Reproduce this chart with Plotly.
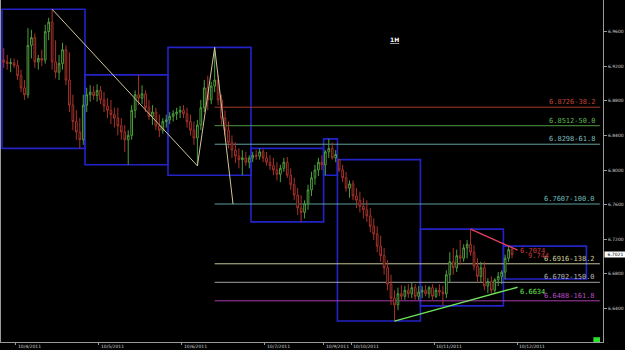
import plotly.graph_objects as go

# ---------------- data (hourly bars, 1H) ----------------
bar_index = list(range(148))

opens = [
    6.927, 6.925, 6.923, 6.924, 6.921, 6.909, 6.895, 6.887, 6.944, 6.953, 6.925, 6.929, 6.927, 6.960, 6.971, 6.925, 6.913, 6.923, 6.939, 6.904, 6.875, 6.856, 6.844, 6.835,
    6.875, 6.887, 6.890, 6.886, 6.892, 6.881, 6.874, 6.869, 6.864, 6.860, 6.851, 6.844, 6.835, 6.840, 6.869, 6.887, 6.883, 6.888, 6.872, 6.862, 6.867, 6.851, 6.846, 6.856,
    6.858, 6.862, 6.865, 6.867, 6.869, 6.865, 6.856, 6.846, 6.837, 6.852, 6.872, 6.895, 6.881, 6.897, 6.904, 6.881, 6.860, 6.846, 6.832, 6.823, 6.816, 6.812, 6.814, 6.809,
    6.814, 6.817, 6.816, 6.821, 6.814, 6.809, 6.805, 6.800, 6.795, 6.802, 6.809, 6.794, 6.783, 6.771, 6.756, 6.751, 6.761, 6.777, 6.791, 6.800, 6.809,
    6.806, 6.821, 6.825, 6.814,
    6.812, 6.800, 6.791, 6.779, 6.784, 6.770, 6.765, 6.758, 6.754, 6.747, 6.735, 6.726, 6.712, 6.701, 6.687, 6.668, 6.652, 6.644, 6.657, 6.654, 6.661, 6.657, 6.664, 6.654,
    6.659, 6.661, 6.657, 6.664, 6.654, 6.661, 6.659, 6.657, 6.679, 6.694, 6.687, 6.701, 6.698, 6.710, 6.714, 6.705, 6.689, 6.677, 6.687, 6.666, 6.671, 6.661, 6.673, 6.677,
    6.682, 6.698, 6.708,
]
highs = [
    6.941, 6.933, 6.929, 6.929, 6.927, 6.916, 6.904, 6.964, 6.962, 6.958, 6.933, 6.939, 6.968, 6.976, 6.9858, 6.950, 6.933, 6.947, 6.944, 6.936, 6.887, 6.869, 6.860, 6.887,
    6.895, 6.898, 6.897, 6.899, 6.897, 6.890, 6.883, 6.881, 6.872, 6.872, 6.860, 6.852, 6.846, 6.875, 6.892, 6.910, 6.898, 6.892, 6.881, 6.875, 6.872, 6.864, 6.860, 6.864,
    6.867, 6.869, 6.872, 6.874, 6.875, 6.872, 6.864, 6.856, 6.858, 6.881, 6.904, 6.909, 6.902, 6.9417, 6.910, 6.887, 6.869, 6.856, 6.840, 6.832, 6.825, 6.823, 6.821, 6.817,
    6.821, 6.823, 6.825, 6.824, 6.821, 6.817, 6.814, 6.809, 6.806, 6.814, 6.815, 6.802, 6.791, 6.779, 6.771, 6.765, 6.783, 6.798, 6.806, 6.814, 6.817,
    6.823, 6.836, 6.832, 6.823,
    6.812, 6.806, 6.798, 6.788, 6.788, 6.779, 6.775, 6.768, 6.765, 6.756, 6.744, 6.735, 6.724, 6.710, 6.696, 6.679, 6.661, 6.664, 6.667, 6.666, 6.668, 6.670, 6.668, 6.666,
    6.666, 6.667, 6.666, 6.668, 6.664, 6.668, 6.666, 6.684, 6.705, 6.710, 6.708, 6.719, 6.714, 6.719, 6.7317, 6.713, 6.698, 6.694, 6.694, 6.675, 6.677, 6.675, 6.682, 6.684,
    6.702, 6.712, 6.710,
]
lows = [
    6.918, 6.916, 6.913, 6.918, 6.904, 6.890, 6.881, 6.883, 6.929, 6.918, 6.916, 6.920, 6.923, 6.950, 6.916, 6.906, 6.904, 6.916, 6.898, 6.867, 6.846, 6.835, 6.825, 6.829,
    6.867, 6.879, 6.881, 6.879, 6.876, 6.867, 6.860, 6.853, 6.849, 6.840, 6.835, 6.821, 6.806, 6.835, 6.860, 6.875, 6.876, 6.867, 6.858, 6.852, 6.846, 6.838, 6.842, 6.849,
    6.853, 6.856, 6.858, 6.860, 6.860, 6.849, 6.840, 6.829, 6.8048, 6.846, 6.867, 6.869, 6.876, 6.890, 6.875, 6.852, 6.840, 6.825, 6.814, 6.808, 6.802, 6.794, 6.805, 6.802,
    6.809, 6.812, 6.812, 6.809, 6.805, 6.800, 6.794, 6.788, 6.786, 6.798, 6.791, 6.777, 6.765, 6.748, 6.740, 6.744, 6.754, 6.770, 6.783, 6.793, 6.800,
    6.794, 6.814, 6.812, 6.809,
    6.798, 6.786, 6.775, 6.768, 6.765, 6.756, 6.751, 6.744, 6.740, 6.728, 6.719, 6.705, 6.694, 6.679, 6.661, 6.644, 6.6254, 6.638, 6.650, 6.650, 6.652, 6.652, 6.650, 6.650,
    6.652, 6.654, 6.652, 6.650, 6.652, 6.654, 6.643, 6.652, 6.670, 6.679, 6.682, 6.690, 6.694, 6.698, 6.701, 6.684, 6.670, 6.670, 6.661, 6.658, 6.657, 6.658, 6.666, 6.668,
    6.674, 6.694, 6.698,
]
closes = [
    6.925, 6.923, 6.924, 6.921, 6.909, 6.895, 6.887, 6.944, 6.953, 6.925, 6.929, 6.927, 6.960, 6.971, 6.925, 6.913, 6.923, 6.939, 6.904, 6.875, 6.856, 6.844, 6.835, 6.875,
    6.887, 6.890, 6.886, 6.892, 6.881, 6.874, 6.869, 6.864, 6.860, 6.851, 6.844, 6.835, 6.840, 6.869, 6.887, 6.883, 6.888, 6.872, 6.862, 6.867, 6.851, 6.846, 6.856, 6.858,
    6.862, 6.865, 6.867, 6.869, 6.865, 6.856, 6.846, 6.837, 6.852, 6.872, 6.895, 6.881, 6.897, 6.904, 6.881, 6.860, 6.846, 6.832, 6.823, 6.816, 6.812, 6.814, 6.809, 6.814,
    6.817, 6.816, 6.821, 6.814, 6.809, 6.805, 6.800, 6.795, 6.802, 6.809, 6.794, 6.783, 6.771, 6.756, 6.751, 6.761, 6.777, 6.791, 6.800, 6.809, 6.806,
    6.821, 6.825, 6.814, 6.818,
    6.800, 6.791, 6.779, 6.784, 6.770, 6.765, 6.758, 6.754, 6.747, 6.735, 6.726, 6.712, 6.701, 6.687, 6.668, 6.652, 6.644, 6.657, 6.654, 6.661, 6.657, 6.664, 6.654, 6.659,
    6.661, 6.657, 6.664, 6.654, 6.661, 6.659, 6.657, 6.679, 6.694, 6.687, 6.701, 6.698, 6.710, 6.714, 6.705, 6.689, 6.677, 6.687, 6.666, 6.671, 6.661, 6.673, 6.677, 6.682,
    6.698, 6.708, 6.7021,
]

# trading-day sessions (first / last bar of each daily box)
day_first_bar = [0, 24, 48, 72, 93, 97, 121, 145]
day_last_bar = [23, 47, 71, 92, 96, 120, 144, 168]

# date ticks (bar where each calendar date starts)
date_tick_bar = [4, 28, 52, 76, 93, 101, 125, 149]
date_labels = ["10/4/2011", "10/5/2011", "10/6/2011", "10/7/2011",
               "10/9/2011", "10/10/2011", "10/11/2011", "10/12/2011"]

price_ticks = [6.60, 6.64, 6.68, 6.72, 6.76, 6.80, 6.84, 6.88, 6.92, 6.96]

# AB=CD zigzag (bar, price)
zigzag_bar = [14, 56, 61, 66.3]
zigzag_price = [6.9858, 6.8048, 6.9417, 6.7607]

# Fibonacci extension levels
fib_levels = [6.8726, 6.8512, 6.8298, 6.7607, 6.6916, 6.6702, 6.6488]
fib_pct = ["38.2", "50.0", "61.8", "100.0", "138.2", "150.0", "161.8"]
fib_colors = ["#a43c2c", "#4f9a42", "#64a0a0", "#5aa09c", "#c4c49a", "#a0a0a0", "#a83cac"]
fib_label_colors = ["#c04636", "#62b454", "#7ebebe", "#6eb8b8", "#d0d09a", "#b4b4b4", "#bc4cc4"]
fib_start_bar = 61
fib_end_bar = 172.4
fib_label_bar = 171.6

# trend lines
support_bar = [113, 148.6]
support_price = [6.6254, 6.6645]
support_label = "6.6634"
resist_bar = [135, 148.6]
resist_price = [6.7317, 6.7075]
resist_labels = ["6.7074", "9.744"]

last_price = 6.7021

# ---------------- figure ----------------
fig = go.Figure()

shapes = []
for f, l in zip(day_first_bar, day_last_bar):
    hi = max(highs[f:l + 1])
    lo = min(lows[f:l + 1])
    shapes.append(dict(type="rect", xref="x", yref="y", x0=f - 0.5, x1=l + 0.5, y0=lo, y1=hi,
                       line=dict(color="#2323c8", width=1.6), fillcolor="rgba(0,0,0,0)", layer="below"))
for lvl, col in zip(fib_levels, fib_colors):
    shapes.append(dict(type="line", xref="x", yref="y", x0=fib_start_bar, x1=fib_end_bar, y0=lvl, y1=lvl,
                       line=dict(color=col, width=1), layer="below"))
shapes.append(dict(type="rect", xref="paper", yref="paper", x0=0.984, x1=0.995, y0=0.0, y1=0.014,
                   line=dict(width=0), fillcolor="#2ee02e"))

fig.add_trace(go.Candlestick(
    x=bar_index, open=opens, high=highs, low=lows, close=closes,
    increasing=dict(line=dict(color="#4e9e3e", width=1), fillcolor="black"),
    decreasing=dict(line=dict(color="#a8322a", width=1), fillcolor="black"),
    whiskerwidth=0, hoverinfo="skip", showlegend=False,
))

fig.add_trace(go.Scatter(x=zigzag_bar, y=zigzag_price, mode="lines",
                         line=dict(color="#cfc69a", width=1), hoverinfo="skip"))
fig.add_trace(go.Scatter(x=support_bar, y=support_price, mode="lines",
                         line=dict(color="#6ee35a", width=1.4), hoverinfo="skip"))
fig.add_trace(go.Scatter(x=resist_bar, y=resist_price, mode="lines",
                         line=dict(color="#e2405e", width=1.4), hoverinfo="skip"))

annotations = []
for lvl, pct, col in zip(fib_levels, fib_pct, fib_label_colors):
    annotations.append(dict(x=fib_label_bar, y=lvl, xref="x", yref="y", text=f"{lvl:.4f}-{pct}",
                            showarrow=False, xanchor="right", yanchor="bottom", yshift=-1,
                            font=dict(family="DejaVu Sans Mono", size=7, color=col)))
annotations.append(dict(x=support_bar[1], y=support_price[1], xref="x", yref="y", text=support_label,
                        showarrow=False, xanchor="left", yanchor="middle", yshift=-5,
                        font=dict(family="DejaVu Sans Mono", size=7, color="#6ee35a")))
annotations.append(dict(x=resist_bar[1], y=resist_price[1], xref="x", yref="y", text=resist_labels[0],
                        showarrow=False, xanchor="left", yanchor="middle", yshift=-1,
                        font=dict(family="DejaVu Sans Mono", size=7, color="#c83838")))
annotations.append(dict(x=resist_bar[1], y=resist_price[1], xref="x", yref="y", text=resist_labels[1],
                        showarrow=False, xanchor="left", yanchor="middle", yshift=-6, xshift=8,
                        font=dict(family="DejaVu Sans Mono", size=7, color="#c83838")))
annotations.append(dict(x=0.643, y=0.884, xref="paper", yref="paper", text="<b><u>1H</u></b>",
                        showarrow=False, xanchor="left", yanchor="middle",
                        font=dict(family="DejaVu Sans", size=6, color="white")))
annotations.append(dict(x=1.0, y=last_price, xref="paper", yref="y", text=f"{last_price:.4f}",
                        showarrow=False, xanchor="left", yanchor="middle", xshift=1,
                        bgcolor="white", borderpad=0, width=21, height=5,
                        font=dict(family="DejaVu Sans", size=4.5, color="black")))
# date labels, left-aligned at their ticks
for b, lab in zip(date_tick_bar, date_labels):
    annotations.append(dict(x=b - 0.5, y=0, xref="x", yref="paper", text=lab,
                            showarrow=False, xanchor="left", yanchor="top", xshift=1, yshift=-1,
                            borderpad=0,
                            font=dict(family="DejaVu Sans", size=4.5, color="#d0d0d0")))

fig.update_layout(
    width=625, height=350,
    margin=dict(l=1, r=22, t=0, b=8),
    paper_bgcolor="black", plot_bgcolor="black",
    showlegend=False,
    shapes=shapes,
    annotations=annotations,
    xaxis=dict(range=[-0.79, 173.3], rangeslider=dict(visible=False), showgrid=False, zeroline=False,
               showline=True, linecolor="#9a9a9a", linewidth=1,
               tickmode="array", tickvals=[b - 0.5 for b in date_tick_bar], showticklabels=False,
               ticks="outside", ticklen=2, tickcolor="#9a9a9a", automargin=False),
    yaxis=dict(side="right", range=[6.6012, 6.9965], showgrid=False, zeroline=False,
               showline=True, linecolor="#9a9a9a", linewidth=1, mirror=True,
               tickmode="array", tickvals=price_ticks, ticktext=[f"{v:.4f}" for v in price_ticks],
               ticks="outside", ticklen=3, tickcolor="#9a9a9a", automargin=False,
               tickfont=dict(family="DejaVu Sans", size=4.5, color="#d0d0d0")),
)

fig.write_html("out.html")
